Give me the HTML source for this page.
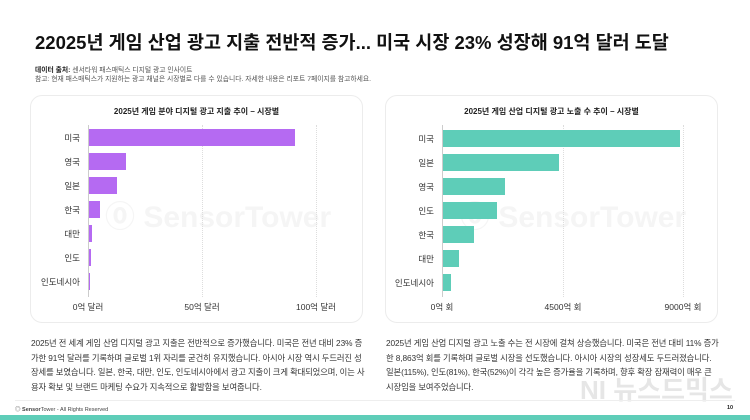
<!DOCTYPE html>
<html><head><meta charset="utf-8"><style>
*{margin:0;padding:0;box-sizing:border-box}
body{width:750px;height:420px;background:#fff;position:relative;overflow:hidden;font-family:"Liberation Sans","Noto Sans CJK KR",sans-serif;color:#222}
.a{position:absolute;white-space:nowrap}
.panel{position:absolute;top:95px;width:333px;height:228px;border:1.5px solid #ececec;border-radius:12px;background:#fff}
.ct{font-size:8px;font-weight:bold;text-align:center;width:100%;top:13px}
.lbl{font-size:8.5px;color:#333;text-align:right;width:60px}
.bar{position:absolute;height:17px}
.grid{position:absolute;width:1px;border-left:1px dotted #ddd;top:92px;height:200px}
.tk{font-size:8.5px;color:#333;transform:translateX(-50%)}
.body{font-size:8.3px;line-height:14.5px;color:#333;white-space:normal;width:334px;letter-spacing:-0.1px}
.wm{font-size:30px;color:#f5f5f5;font-weight:bold}
</style></head><body>
<div class="a" style="left:35px;top:29px;font-size:18.5px;font-weight:bold;color:#111">22025년 게임 산업 광고 지출 전반적 증가... 미국 시장 23% 성장해 91억 달러 도달</div>
<div class="a" style="left:35px;top:64px;font-size:6.8px;color:#555"><b style="color:#222">데이터 출처:</b> 센서타워 패스매틱스 디지털 광고 인사이트</div>
<div class="a" style="left:35px;top:73px;font-size:6.8px;color:#555">참고: 현재 패스매틱스가 지원하는 광고 채널은 시장별로 다를 수 있습니다. 자세한 내용은 리포트 7페이지를 참고하세요.</div>

<div class="panel" style="left:30px"></div>
<div class="panel" style="left:385px"></div>
<div class="a wm" style="left:105px;top:192px">⓪ SensorTower</div>
<div class="a wm" style="left:460px;top:192px">⓪ SensorTower</div>
<div class="a ct" style="left:30px;width:333px;top:106px">2025년 게임 분야 디지털 광고 지출 추이 – 시장별</div>
<div class="a ct" style="left:385px;width:333px;top:106px">2025년 게임 산업 디지털 광고 노출 수 추이 – 시장별</div>

<div class="grid" style="left:88px;border-left:1px solid #ccc;top:125px;height:172px"></div>
<div class="grid" style="left:202px;top:125px;height:172px"></div>
<div class="grid" style="left:316px;top:125px;height:172px"></div>
<div class="grid" style="left:442px;border-left:1px solid #ccc;top:125px;height:172px"></div>
<div class="grid" style="left:563px;top:125px;height:172px"></div>
<div class="grid" style="left:683px;top:125px;height:172px"></div>

<div class="bar" style="left:89px;top:129px;width:206px;background:#b56af2"></div>
<div class="bar" style="left:89px;top:153px;width:37px;background:#b56af2"></div>
<div class="bar" style="left:89px;top:177px;width:28px;background:#b56af2"></div>
<div class="bar" style="left:89px;top:201px;width:11px;background:#b56af2"></div>
<div class="bar" style="left:89px;top:225px;width:3px;background:#b56af2"></div>
<div class="bar" style="left:89px;top:249px;width:2px;background:#b56af2"></div>
<div class="bar" style="left:89px;top:273px;width:1px;background:#b56af2"></div>
<div class="a lbl" style="left:20px;top:132px">미국</div>
<div class="a lbl" style="left:20px;top:156px">영국</div>
<div class="a lbl" style="left:20px;top:180px">일본</div>
<div class="a lbl" style="left:20px;top:204px">한국</div>
<div class="a lbl" style="left:20px;top:228px">대만</div>
<div class="a lbl" style="left:20px;top:252px">인도</div>
<div class="a lbl" style="left:20px;top:276px">인도네시아</div>
<div class="a tk" style="left:88px;top:301px">0억 달러</div>
<div class="a tk" style="left:202px;top:301px">50억 달러</div>
<div class="a tk" style="left:316px;top:301px">100억 달러</div>

<div class="bar" style="left:443px;top:130px;width:237px;background:#5ecdb8"></div>
<div class="bar" style="left:443px;top:154px;width:116px;background:#5ecdb8"></div>
<div class="bar" style="left:443px;top:178px;width:62px;background:#5ecdb8"></div>
<div class="bar" style="left:443px;top:202px;width:54px;background:#5ecdb8"></div>
<div class="bar" style="left:443px;top:226px;width:31px;background:#5ecdb8"></div>
<div class="bar" style="left:443px;top:250px;width:16px;background:#5ecdb8"></div>
<div class="bar" style="left:443px;top:274px;width:8px;background:#5ecdb8"></div>
<div class="a lbl" style="left:374px;top:133px">미국</div>
<div class="a lbl" style="left:374px;top:157px">일본</div>
<div class="a lbl" style="left:374px;top:181px">영국</div>
<div class="a lbl" style="left:374px;top:205px">인도</div>
<div class="a lbl" style="left:374px;top:229px">한국</div>
<div class="a lbl" style="left:374px;top:253px">대만</div>
<div class="a lbl" style="left:374px;top:277px">인도네시아</div>
<div class="a tk" style="left:442px;top:301px">0억 회</div>
<div class="a tk" style="left:563px;top:301px">4500억 회</div>
<div class="a tk" style="left:683px;top:301px">9000억 회</div>

<div class="a body" style="left:31px;top:336px">2025년 전 세계 게임 산업 디지털 광고 지출은 전반적으로 증가했습니다. 미국은 전년 대비 23% 증가한 91억 달러를 기록하며 글로벌 1위 자리를 굳건히 유지했습니다. 아시아 시장 역시 두드러진 성장세를 보였습니다. 일본, 한국, 대만, 인도, 인도네시아에서 광고 지출이 크게 확대되었으며, 이는 사용자 확보 및 브랜드 마케팅 수요가 지속적으로 활발함을 보여줍니다.</div>
<div class="a body" style="left:386px;top:336px">2025년 게임 산업 디지털 광고 노출 수는 전 시장에 걸쳐 상승했습니다. 미국은 전년 대비 11% 증가한 8,863억 회를 기록하며 글로벌 시장을 선도했습니다. 아시아 시장의 성장세도 두드러졌습니다. 일본(115%), 인도(81%), 한국(52%)이 각각 높은 증가율을 기록하며, 향후 확장 잠재력이 매우 큰 시장임을 보여주었습니다.</div>

<div class="a" style="left:580px;top:370px;font-size:26px;font-weight:bold;color:#e6e6e6">NI 뉴스드믹스</div>
<div class="a" style="left:15px;top:400px;width:720px;height:1px;background:#eee"></div>
<div class="a" style="left:15px;top:405px;font-size:5.5px;color:#444">◎ <b>Sensor</b>Tower - All Rights Reserved</div>
<div class="a" style="left:727px;top:405px;font-size:5.5px;font-weight:bold">10</div>
<div class="a" style="left:0;top:415px;width:750px;height:5px;background:#5ecdb8"></div>
</body></html>
